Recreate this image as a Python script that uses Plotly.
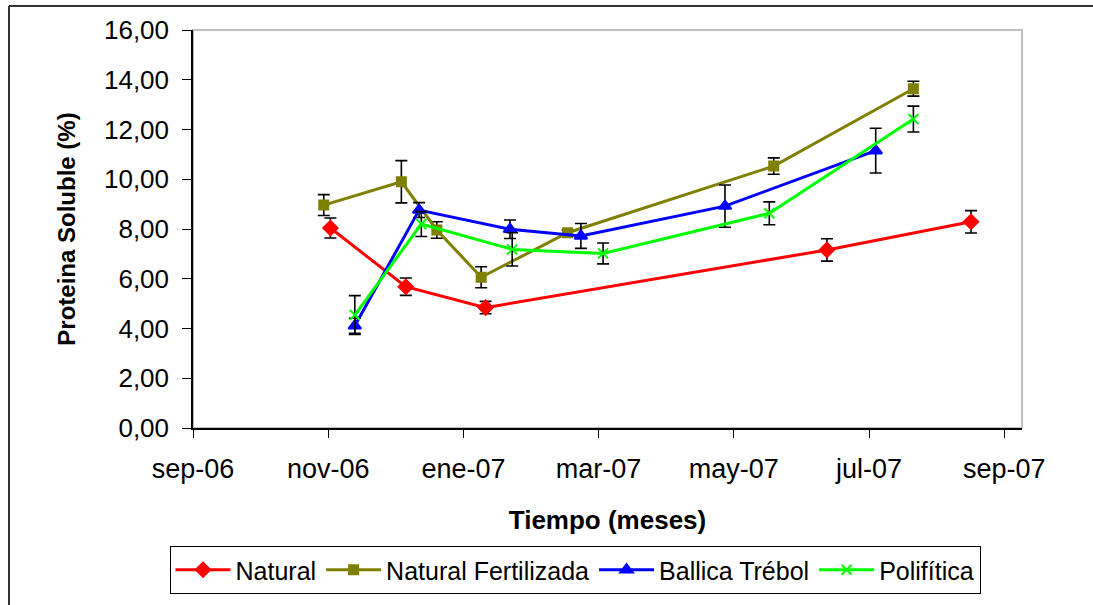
import plotly.graph_objects as go

# ---- data ----
natural_dates = ["2006-11-02", "2006-12-06", "2007-01-11", "2007-06-14", "2007-08-18"]
natural_vals = [8.04, 5.68, 4.84, 7.16, 8.29]
natural_err = [0.40, 0.35, 0.25, 0.45, 0.45]

fert_dates = ["2006-10-30", "2006-12-04", "2006-12-20", "2007-01-09", "2007-02-17", "2007-05-21", "2007-07-23"]
fert_vals = [8.96, 9.90, 7.96, 6.06, 7.85, 10.53, 13.64]
fert_err = [0.42, 0.85, 0.33, 0.42, 0.10, 0.33, 0.30]

ballica_dates = ["2006-11-13", "2006-12-12", "2007-01-22", "2007-02-23", "2007-04-29", "2007-07-06"]
ballica_vals = [4.11, 8.76, 7.99, 7.72, 8.92, 11.15]
ballica_err = [0.30, 0.30, 0.37, 0.50, 0.85, 0.90]

poli_dates = ["2006-11-13", "2006-12-13", "2007-01-23", "2007-03-05", "2007-05-19", "2007-07-23"]
poli_vals = [4.54, 8.20, 7.18, 7.02, 8.63, 12.42]
poli_err = [0.78, 0.50, 0.67, 0.42, 0.46, 0.52]

x_tickvals = ["2006-09-01", "2006-11-01", "2007-01-01", "2007-03-03", "2007-05-03", "2007-07-03", "2007-09-02"]
x_ticktext = ["sep-06", "nov-06", "ene-07", "mar-07", "may-07", "jul-07", "sep-07"]
x_range = ["2006-09-01", "2007-09-10"]
y_tickvals = [0, 2, 4, 6, 8, 10, 12, 14, 16]

FONT = "Liberation Sans, Arial, sans-serif"

series = [
    ("Natural", natural_dates, natural_vals, natural_err, "#FF0000", "diamond", 11),
    ("Natural Fertilizada", fert_dates, fert_vals, fert_err, "#808000", "square", 9),
    ("Ballica Trébol", ballica_dates, ballica_vals, ballica_err, "#0000FF", "triangle-up", 11),
    ("Polifítica", poli_dates, poli_vals, poli_err, "#00FF00", "x-thin-open", 10),
]

fig = go.Figure()
for name, xs, ys, es, color, sym, size in series:
    fig.add_trace(go.Scatter(
        x=xs, y=ys, name=name, mode="lines+markers",
        line=dict(color=color, width=3),
        marker=dict(symbol=sym, size=size, color=color,
                    line=dict(color=color, width=2)),
        error_y=dict(type="data", array=es, visible=True,
                     color="black", thickness=1.6, width=6),
    ))

W, H = 1093, 605
L, R, T, B = 193, 71, 30, 177
pw, ph = W - L - R, H - T - B

def px_x(p):
    return (p - L) / pw

def px_y(p):
    return (H - B - p) / ph

fig.update_layout(
    width=W, height=H,
    margin=dict(l=L, r=R, t=T, b=B, pad=0, autoexpand=False),
    paper_bgcolor="white", plot_bgcolor="white",
    separators=",.",
    font=dict(family=FONT, color="black", size=25),
    showlegend=True,
    legend=dict(
        orientation="h", x=px_x(575), y=px_y(546),
        xanchor="center", yanchor="top",
        bordercolor="black", borderwidth=1,
        font=dict(size=25, family=FONT),
        itemwidth=55,
    ),
    xaxis=dict(
        type="date", range=x_range,
        tickvals=x_tickvals, ticktext=x_ticktext,
        showgrid=False, zeroline=False,
        showline=True, linecolor="black", linewidth=1.5,
        ticks="outside", ticklen=8, tickcolor="black", tickwidth=1,
        ticklabelstandoff=8,
        tickfont=dict(size=27, family=FONT),
        title=dict(text="<b>Tiempo (meses)</b>", font=dict(size=26, family=FONT), standoff=28),
    ),
    yaxis=dict(
        range=[0, 16], tickvals=y_tickvals, tickformat=".2f",
        showgrid=False, zeroline=False,
        showline=True, linecolor="black", linewidth=1.5,
        ticks="outside", ticklen=9, tickcolor="black", tickwidth=1,
        ticklabelstandoff=8,
        tickfont=dict(size=26, family=FONT),
        title=dict(text="<b>Proteina Soluble (%)</b>", font=dict(size=24, family=FONT), standoff=22),
    ),
    shapes=[
        # plot-area border (gray)
        dict(type="rect", xref="paper", yref="paper", x0=0, x1=1, y0=0, y1=1,
             line=dict(color="#BFBFBF", width=2), layer="below"),
        # outer chart border (left and top visible)
        dict(type="line", xref="paper", yref="paper", x0=px_x(9), x1=px_x(1100),
             y0=px_y(6), y1=px_y(6), line=dict(color="#333333", width=2)),
        dict(type="line", xref="paper", yref="paper", x0=px_x(9), x1=px_x(9),
             y0=px_y(6), y1=px_y(610), line=dict(color="#333333", width=2)),
    ],
)

fig.write_html("out.html")
